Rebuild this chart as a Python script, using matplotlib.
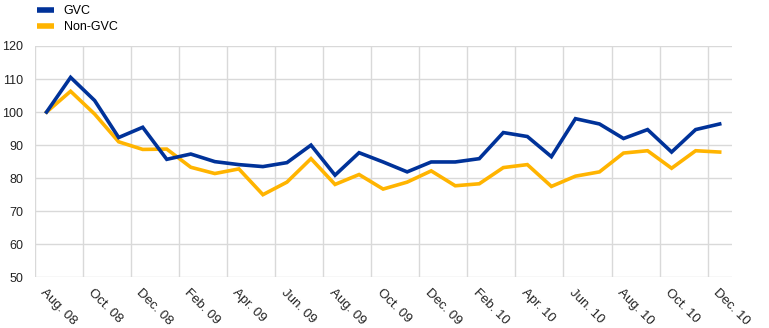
import matplotlib
matplotlib.use('Agg')
import matplotlib.pyplot as plt

months = ['Aug. 08', 'Sep. 08', 'Oct. 08', 'Nov. 08', 'Dec. 08',
          'Jan. 09', 'Feb. 09', 'Mar. 09', 'Apr. 09', 'May. 09', 'Jun. 09',
          'Jul. 09', 'Aug. 09', 'Sep. 09', 'Oct. 09', 'Nov. 09', 'Dec. 09',
          'Jan. 10', 'Feb. 10', 'Mar. 10', 'Apr. 10', 'May. 10', 'Jun. 10',
          'Jul. 10', 'Aug. 10', 'Sep. 10', 'Oct. 10', 'Nov. 10', 'Dec. 10']

gvc = [100.0, 110.5, 103.5, 92.3, 95.4,
       85.7, 87.3, 85.0, 84.1, 83.5, 84.7,
       90.0, 80.9, 87.7, 84.9, 81.9, 84.9,
       84.9, 85.9, 93.8, 92.6, 86.5, 98.0,
       96.4, 92.0, 94.7, 87.9, 94.7, 96.4]

non_gvc = [100.0, 106.3, 99.4, 91.0, 88.7,
           88.8, 83.3, 81.4, 82.8, 75.0, 78.8,
           85.9, 78.1, 81.1, 76.7, 78.8, 82.2,
           77.7, 78.3, 83.2, 84.1, 77.5, 80.6,
           81.9, 87.6, 88.3, 83.0, 88.3, 87.9]

plt.rcParams['font.family'] = ['Liberation Sans', 'DejaVu Sans']

fig = plt.figure(figsize=(7.69, 3.28), dpi=100)
ax = fig.add_axes([0.0449, 0.1546, 0.9066, 0.7052])

x = list(range(len(months)))
l1, = ax.plot(x, gvc, color='#003299', lw=2.6, label='GVC', solid_joinstyle='miter')
l2, = ax.plot(x, non_gvc, color='#FFB400', lw=2.6, label='Non-GVC', solid_joinstyle='miter')
l1.set_zorder(3)

ax.set_xlim(-0.5, len(months) - 0.5)
ax.set_ylim(50, 120)
ax.set_yticks(range(50, 121, 10))

ax.set_xticks(x[::2])
ax.set_xticklabels(months[::2], rotation=-45, ha='left', va='top',
                   rotation_mode='anchor')
ax.set_xticks([i - 0.5 for i in x[::2]], minor=True)

ax.grid(axis='y', which='major', color='#d9d9d9', lw=1)
ax.grid(axis='x', which='minor', color='#d9d9d9', lw=1)
ax.set_axisbelow(True)
for s in ax.spines.values():
    s.set_visible(False)
ax.tick_params(axis='both', which='both', length=0, colors='#222222')
ax.tick_params(axis='x', pad=7, labelsize=9.5)
ax.tick_params(axis='y', pad=8, labelsize=9)

fig.legend(handles=[l1, l2], loc='upper left', bbox_to_anchor=(0.042, 1.0),
           frameon=False, fontsize=9, handlelength=1.3, handleheight=0.5,
           labelspacing=0.3, handletextpad=0.8, borderaxespad=0)
for h in fig.legends[0].legend_handles:
    h.set_linewidth(4)
    h.set_solid_capstyle('butt')

fig.savefig('out.png', dpi=100)
